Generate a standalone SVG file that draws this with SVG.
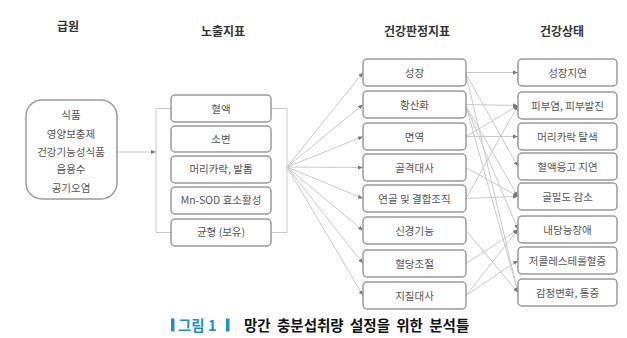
<svg xmlns="http://www.w3.org/2000/svg" width="627" height="338" viewBox="0 0 627 338">
<style>
.box{fill:#fff;stroke:#9a9a9a;stroke-width:1.5}
.t{font-family:"Noto Sans CJK KR","Noto Sans",sans-serif;font-size:10.5px;fill:#555;text-anchor:middle}
.h{font-family:"Noto Sans CJK KR","Noto Sans",sans-serif;font-size:12px;font-weight:bold;fill:#333;text-anchor:middle}
.c{fill:none;stroke:#c9c9c9;stroke-width:1}
.a{fill:none;stroke:#c9c9c9;stroke-width:1;marker-end:url(#arr)}
.cap{font-family:"Noto Sans CJK KR","Noto Sans",sans-serif;font-size:14.5px;font-weight:bold}
</style>
<defs>
<marker id="arr" viewBox="0 0 6 6" refX="6" refY="3" markerWidth="5" markerHeight="5" orient="auto" markerUnits="userSpaceOnUse">
<path d="M0,0.5 L6,3 L0,5.5 Z" fill="#7a7a7a"/>
</marker>
</defs>
<rect width="627" height="338" fill="#fff"/>

<g id="headers">
<text class="h" x="68" y="31">급원</text>
<text class="h" x="223" y="36">노출지표</text>
<text class="h" x="417" y="36">건강판정지표</text>
<text class="h" x="562" y="36">건강상태</text>
</g>

<g id="connectors">
<path class="a" d="M118,152 H156"/>
<path class="c" d="M171,108.5 H156 V232.5 H171"/>
<path class="c" d="M271,108.5 H287 V232.5 H271"/>
<path class="a" d="M287,167 L363,72.5"/>
<path class="a" d="M287,167 L363,104.5"/>
<path class="a" d="M287,167 L363,136.5"/>
<path class="a" d="M287,167 L363,167.5"/>
<path class="a" d="M287,167 L363,198.5"/>
<path class="a" d="M287,167 L363,230.5"/>
<path class="a" d="M287,167 L363,263.5"/>
<path class="a" d="M287,167 L363,295.5"/>

<path class="a" d="M466,72.5 L518,72.5"/>
<path class="a" d="M466,74 L518,166.5"/>
<path class="a" d="M466,75 L518,292.5"/>
<path class="a" d="M466,104.5 L518,105.5"/>
<path class="a" d="M466,106 L518,196.5"/>
<path class="a" d="M466,106 L518,229.5"/>
<path class="a" d="M466,106 L518,292.5"/>
<path class="a" d="M466,136.5 L518,105.5"/>
<path class="a" d="M466,136.5 L518,136.5"/>
<path class="a" d="M466,167.5 L518,196.5"/>
<path class="a" d="M466,198.5 L518,105.5"/>
<path class="a" d="M466,198.5 L518,196.5"/>
<path class="a" d="M466,230.5 L518,292.5"/>
<path class="a" d="M466,263.5 L518,229.5"/>
<path class="a" d="M466,295.5 L518,229.5"/>
<path class="a" d="M466,295.5 L518,260.5"/>
</g>

<g id="source">
<rect class="box" x="26" y="100" width="91" height="99" rx="16"/>
<text class="t" x="71" y="119">식품</text>
<text class="t" x="71" y="138">영양보충제</text>
<text class="t" x="71" y="156">건강기능성식품</text>
<text class="t" x="71" y="173">음용수</text>
<text class="t" x="71" y="192">공기오염</text>
</g>

<g id="exp-blood"><rect class="box" x="171" y="95" width="100" height="27" rx="4"/><text class="t" x="221" y="112.5">혈액</text></g>
<g id="exp-urine"><rect class="box" x="171" y="126" width="100" height="26" rx="4"/><text class="t" x="221" y="143">소변</text></g>
<g id="exp-hair"><rect class="box" x="171" y="156" width="100" height="27" rx="4"/><text class="t" x="221" y="173">머리카락, 발톱</text></g>
<g id="exp-sod"><rect class="box" x="171" y="187" width="100" height="27" rx="4"/><text class="t" x="221" y="204">Mn-SOD 효소활성</text></g>
<g id="exp-balance"><rect class="box" x="171" y="219" width="100" height="27" rx="4"/><text class="t" x="221" y="236">균형 (보유)</text></g>

<g id="ind-growth"><rect class="box" x="363" y="59" width="103" height="27" rx="4"/><text class="t" x="414.5" y="76.5">성장</text></g>
<g id="ind-antiox"><rect class="box" x="363" y="91" width="103" height="27" rx="4"/><text class="t" x="414.5" y="108.5">항산화</text></g>
<g id="ind-immune"><rect class="box" x="363" y="123" width="103" height="27" rx="4"/><text class="t" x="414.5" y="140.5">면역</text></g>
<g id="ind-bone"><rect class="box" x="363" y="154" width="103" height="27" rx="4"/><text class="t" x="414.5" y="171.5">골격대사</text></g>
<g id="ind-cartilage"><rect class="box" x="363" y="185" width="103" height="27" rx="4"/><text class="t" x="414.5" y="202.5">연골 및 결합조직</text></g>
<g id="ind-nerve"><rect class="box" x="363" y="217" width="103" height="27" rx="4"/><text class="t" x="414.5" y="234.5">신경기능</text></g>
<g id="ind-glucose"><rect class="box" x="363" y="250" width="103" height="27" rx="4"/><text class="t" x="414.5" y="267.5">혈당조절</text></g>
<g id="ind-lipid"><rect class="box" x="363" y="282" width="103" height="27" rx="4"/><text class="t" x="414.5" y="299.5">지질대사</text></g>

<g id="st-growth"><rect class="box" x="518" y="59" width="99" height="27" rx="4"/><text class="t" x="567.5" y="76.5">성장지연</text></g>
<g id="st-skin"><rect class="box" x="518" y="92" width="99" height="27" rx="4"/><text class="t" x="567.5" y="109.5">피부염, 피부발진</text></g>
<g id="st-hair"><rect class="box" x="518" y="123" width="99" height="27" rx="4"/><text class="t" x="567.5" y="140.5">머리카락 탈색</text></g>
<g id="st-clot"><rect class="box" x="518" y="153" width="99" height="27" rx="4"/><text class="t" x="567.5" y="170.5">혈액응고 지연</text></g>
<g id="st-bmd"><rect class="box" x="518" y="183" width="99" height="27" rx="4"/><text class="t" x="567.5" y="200.5">골밀도 감소</text></g>
<g id="st-glucose"><rect class="box" x="518" y="216" width="99" height="27" rx="4"/><text class="t" x="567.5" y="233.5">내당능장애</text></g>
<g id="st-chol"><rect class="box" x="518" y="247" width="99" height="27" rx="4"/><text class="t" x="567.5" y="264.5">저콜레스테롤혈증</text></g>
<g id="st-emotion"><rect class="box" x="518" y="279" width="99" height="27" rx="4"/><text class="t" x="567.5" y="296.5">감정변화, 통증</text></g>

<g id="caption">
<rect x="171" y="318.5" width="3.5" height="13" fill="#1a8fd6"/>
<text class="cap" x="178" y="330.5" fill="#1a8fd6">그림 1</text>
<rect x="226" y="318.5" width="3.5" height="13" fill="#1a8fd6"/>
<text class="cap" x="244" y="330.5" fill="#111" word-spacing="3">망간 충분섭취량 설정을 위한 분석틀</text>
</g>
</svg>
